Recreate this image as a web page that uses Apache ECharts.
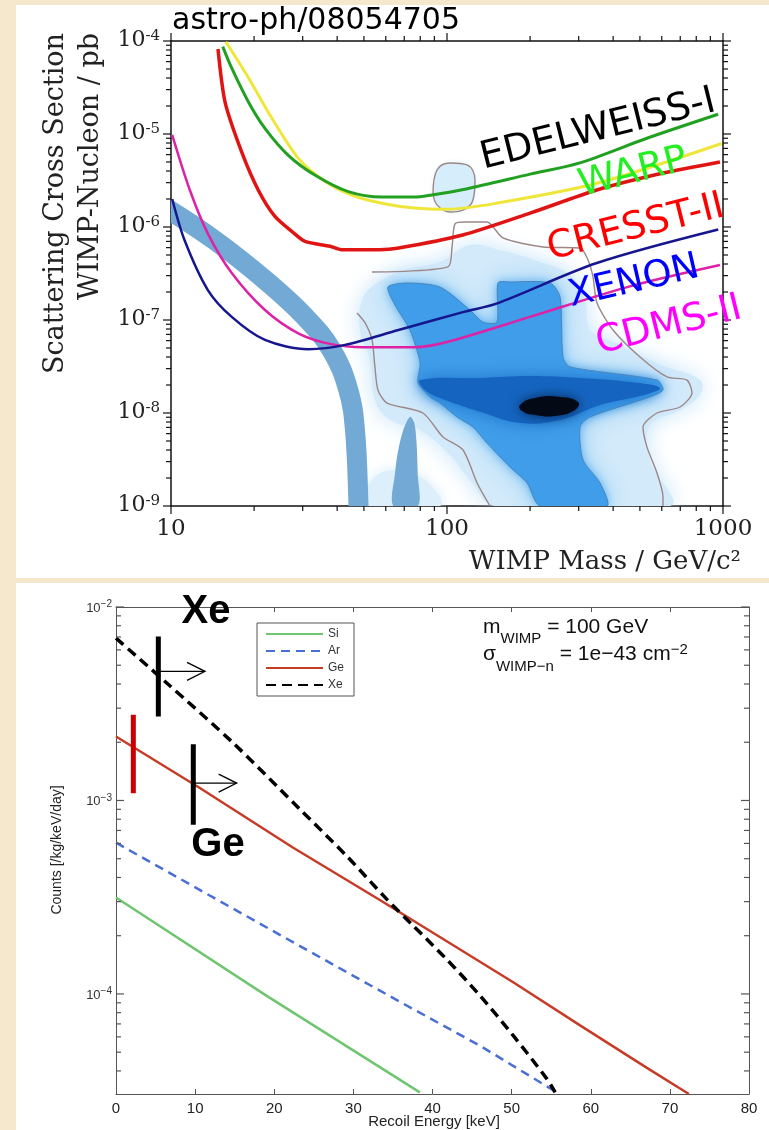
<!DOCTYPE html>
<html><head><meta charset="utf-8">
<script src="https://cdn.jsdelivr.net/npm/echarts@6/dist/echarts.min.js"></script>
<style>html,body{margin:0;padding:0;background:#f6e8cc;}#c{width:769px;height:1130px;}</style>
</head><body><div id="c"></div>
<script>
// ================= TOP CHART: WIMP mass [GeV/c^2] vs cross section [pb] =================
const edelweiss = [[15.4,8.7e-5],[16.6,5.1e-5],[19.1,2.2e-5],[21.9,1.15e-5],[26.6,5.9e-6],[33.3,3.6e-6],[43.9,2.4e-6],[58,2.1e-6],[76,2.1e-6],[87,2.2e-6],[116,2.55e-6],[200,3.7e-6],[303,4.9e-6],[530,9e-6],[960,1.63e-5]];
const warp = [[15.8,9.8e-5],[19.1,4e-5],[23.2,1.48e-5],[28.9,5.5e-6],[36.1,3.1e-6],[45.2,2.2e-6],[58,1.8e-6],[76,1.6e-6],[100,1.55e-6],[151,1.8e-6],[349,2.95e-6],[988,7.9e-6]];
const cresst = [[14.8,8.2e-5],[15.7,2.2e-5],[18,6.5e-6],[20.7,2.5e-6],[23.8,1.3e-6],[28,8.5e-7],[30.6,7e-7],[37.7,6.2e-7],[41.5,5.7e-7],[57,5.7e-7],[66,5.9e-7],[114,8.2e-7],[200,1.41e-6],[349,2.5e-6],[607,3.8e-6],[975,5.0e-6]];
const xenon = [[10.1,2e-6],[11.2,7.2e-7],[13.6,2.1e-7],[16.6,1.08e-7],[21.9,6.1e-8],[31.4,4.85e-8],[42.7,5.4e-8],[66.7,7.8e-8],[116,1.23e-7],[151,1.5e-7],[349,4.1e-7],[961,9.4e-7]];
const cdms = [[10.1,9.8e-6],[11.7,2.5e-6],[13.6,8.5e-7],[16.6,3.2e-7],[21.9,1.28e-7],[28.9,7.2e-8],[38,5.5e-8],[50,5.1e-8],[76,5.1e-8],[100,5.8e-8],[200,1.08e-7],[460,2.3e-7],[975,3.9e-7]];
// theory band and small spike region
const band = [[9.6,1.6e-6],[14.4,7.2e-7],[21.9,2.7e-7],[30.6,1.08e-7],[38.2,4.75e-8],[43.9,1.77e-8],[46.4,6.6e-9],[47.8,1e-9],[47.9,5e-10]];
const spike = [[63.9,1e-9],[64.8,2.24e-9],[66.6,4.0e-9],[69.5,6.6e-9],[73.5,9.1e-9],[76.1,7.8e-9],[77.6,4.7e-9],[78.3,2.24e-9],[78.5,1e-9]];
// posterior density regions
const haloRegion = [[49.2,1.64e-7],[54.8,2.4e-7],[70.4,3.45e-7],[94.3,4.2e-7],[121.1,6.4e-7],[155.6,5.66e-7],[217.3,4.2e-7],[279,3.05e-7],[316,1.64e-7],[329.7,7.8e-8],[423.5,5.4e-8],[591,3.3e-8],[825,2.26e-8],[825,1.56e-8],[698.6,1.08e-8],[543.9,7.4e-9],[543.9,3.13e-9],[643,1e-9],[149.3,1e-9],[121.1,1.9e-9],[102.5,3.53e-9],[79.9,6.56e-9],[62.2,8.4e-9],[54.8,1.38e-8],[52.6,3.72e-8],[48.4,7.8e-8]];
const haloLow = [[50.5,1e-9],[53.5,1.9e-9],[64.8,2.44e-9],[83.2,1.9e-9],[94.3,1e-9]];
const bubble = [[89.0,2.32e-6],[92.0,4.1e-6],[102.5,4.88e-6],[118.2,4.65e-6],[126.3,3.2e-6],[124.2,1.95e-6],[114.3,1.52e-6],[102.5,1.45e-6],[92.0,1.73e-6],[89.0,2.32e-6]];
const midRegion = [[61.1,2.26e-7],[71.6,2.5e-7],[94.3,2.26e-7],[121.1,1.28e-7],[135,9.5e-8],[151.8,9.5e-8],[153,2.5e-7],[169.1,2.56e-7],[236.2,2.5e-7],[256.7,1.77e-7],[263.2,4.0e-8],[279,3.13e-8],[576.6,2.26e-8],[606.2,1.77e-8],[543.9,1.49e-8],[329.7,9.06e-9],[303.4,7.06e-9],[311.1,3.13e-9],[358.4,1.77e-9],[379.9,1e-9],[217.3,1e-9],[195,1.77e-9],[169.1,2.62e-9],[139.6,4.75e-9],[124.2,7.06e-9],[108.7,9.06e-9],[94.3,1.28e-8],[86.8,1.49e-8],[78.5,2.1e-8],[79.9,3.45e-8],[73.4,7.8e-8],[64.8,1.45e-7]];
const darkRegion = [[79.9,2.26e-8],[131.7,2.38e-8],[199.8,2.5e-8],[303.4,2.38e-8],[460,2.15e-8],[591,1.86e-8],[500.4,1.52e-8],[358.4,1.22e-8],[256.7,8.4e-9],[183.9,7.8e-9],[131.7,1.03e-8],[94.3,1.45e-8],[83.2,1.77e-8]];
const coreRegion = [[183.9,1.22e-8],[208.4,1.45e-8],[256.7,1.49e-8],[298.4,1.31e-8],[290.9,1.08e-8],[246.3,9.3e-9],[208.4,9.5e-9],[187,1.05e-8]];
// outer (grey) credible contour, two open pieces
const contourA = [[53.5,3.28e-7],[100.8,3.72e-7],[104.3,6.1e-7],[106.9,1.08e-6],[116.2,1.13e-6],[139.6,1.13e-6],[159.6,7.62e-7],[222.8,6.1e-7],[303.4,5.94e-7],[324.3,4.42e-7],[338.1,2.9e-7],[349.5,1.52e-7],[399.4,7.8e-8],[500.4,4.0e-8],[626.8,2.44e-8],[740.7,2.26e-8],[772.2,1.64e-8],[698.6,1.16e-8],[576.6,1e-8],[513.1,7.06e-9],[530.5,4.3e-9],[576.6,2.26e-9],[606.2,1.25e-9],[606.2,1e-9]];
const contourB = [[47.2,1.19e-7],[50.5,9.3e-8],[53.5,6.1e-8],[54.8,3.13e-8],[56.2,1.77e-8],[60.6,1.28e-8],[81.8,1e-8],[96.7,5.52e-9],[114.3,4.0e-9],[128.5,1.77e-9],[143.2,1e-9]];
const massMajor = [10, 100, 1000];
const massMinor = [20,30,40,50,60,70,80,90,200,300,400,500,600,700,800,900];
const sigmaMajor = [1e-9,1e-8,1e-7,1e-6,1e-5,1e-4];
const sigmaMinor = [2e-9,3e-9,4e-9,5e-9,6e-9,7e-9,8e-9,9e-9,2e-8,3e-8,4e-8,5e-8,6e-8,7e-8,8e-8,9e-8,2e-7,3e-7,4e-7,5e-7,6e-7,7e-7,8e-7,9e-7,2e-6,3e-6,4e-6,5e-6,6e-6,7e-6,8e-6,9e-6,2e-5,3e-5,4e-5,5e-5,6e-5,7e-5,8e-5,9e-5];
const curveLabels = ['EDELWEISS-I','WARP','CRESST-II','XENON','CDMS-II'];

// ================= BOTTOM CHART: recoil energy [keV] vs counts =================
const si = [[0,3.15e-4],[19,9.8e-5],[38.4,3.1e-5]];
const ar = [[0,6.05e-4],[12,3.2e-4],[24,1.7e-4],[35.9,9.1e-5],[46,5.4e-5],[55.7,3.1e-5]];
const ge = [[0,2.14e-3],[10.6,1.16e-3],[22.4,5.7e-4],[33.4,3.05e-4],[50.2,1.15e-4],[58.6,6.9e-5],[67.1,4.15e-5],[72.4,3.04e-5]];
const xe = [[0,6.9e-3],[6.41,4.05e-3],[14.82,1.98e-3],[23.25,9.0e-4],[29.16,5.16e-4],[34.21,3.09e-4],[37.57,2.25e-4],[41.79,1.51e-4],[46.0,9.8e-5],[50.21,6.09e-5],[54.43,3.65e-5],[55.5,3.1e-5]];
const xeThreshold = [[5.35,7.03e-3],[5.35,2.72e-3]];
const geThreshold = [[9.77,1.95e-3],[9.77,7.5e-4]];
const redThreshold = [[2.19,2.77e-3],[2.19,1.09e-3]];
const arrows = [[5.35,4.65e-3,11.25,4.65e-3],[9.77,1.23e-3,15.25,1.23e-3]];
const countsMajor = [1e-4,1e-3,1e-2];
const countsMinor = [4e-5,5e-5,6e-5,7e-5,8e-5,9e-5,2e-4,3e-4,4e-4,5e-4,6e-4,7e-4,8e-4,9e-4,2e-3,3e-3,4e-3,5e-3,6e-3,7e-3,8e-3,9e-3];
const legendNames = ['Si','Ar','Ge','Xe'];

// ---------------- helpers ----------------
function isPow10(v){ const e = Math.log10(v); return Math.abs(e - Math.round(e)) < 1e-6; }
function polySeries(pts, style, z, xi, yi, smooth) {
  return { type:'custom', xAxisIndex:xi, yAxisIndex:yi, z:z, clip:true, silent:true, data:pts,
    renderItem:(params, api) => params.dataIndex === 0 ? {type:'polygon', shape:{points:pts.map(p => api.coord(p)), smooth:smooth}, style:style} : null };
}
function thickPathSeries(pts, style, z, xi, yi, smooth) {
  return { type:'custom', xAxisIndex:xi, yAxisIndex:yi, z:z, clip:true, silent:true, data:pts,
    renderItem:(params, api) => params.dataIndex === 0 ? {type:'polyline', shape:{points:pts.map(p => api.coord(p)), smooth:smooth}, style:style} : null };
}
function lineSeries(name, data, color, width, z, xi, yi, extra) {
  return Object.assign({ name:name, type:'line', data:data, xAxisIndex:xi, yAxisIndex:yi, z:z, symbol:'none', showSymbol:false, silent:true,
    lineStyle:{color:color, width:width}, itemStyle:{color:color}, clip:true }, extra || {});
}
function tickSeries(data, outward, color, xi, yi) {
  return { type:'custom', xAxisIndex:xi, yAxisIndex:yi, z:9, clip:false, silent:true, data:data,
    renderItem:(params, api) => {
      const cs = params.coordSys;
      const p = api.coord([api.value(0), api.value(1)]);
      const kind = api.value(2), len = api.value(3), s = outward ? 1 : -1;
      let L;
      if (kind === 0) { const yb = cs.y + cs.height, yt = cs.y; L = [[p[0],yb,p[0],yb+s*len],[p[0],yt,p[0],yt-s*len]]; }
      else { const xl = cs.x, xr = cs.x + cs.width; L = [[xl,p[1],xl-s*len,p[1]],[xr,p[1],xr+s*len,p[1]]]; }
      return {type:'group', children:L.map(l => ({type:'line', shape:{x1:l[0],y1:l[1],x2:l[2],y2:l[3]}, style:{stroke:color, lineWidth:1.2}}))};
    } };
}
const topTicks = [];
massMajor.forEach(v => topTicks.push([v,1e-9,0,8]));
massMinor.forEach(v => topTicks.push([v,1e-9,0,5]));
sigmaMajor.forEach(v => topTicks.push([10,v,1,8]));
sigmaMinor.forEach(v => topTicks.push([10,v,1,5]));
const botTicks = [];
countsMajor.forEach(v => botTicks.push([0,v,1,8]));
countsMinor.forEach(v => botTicks.push([0,v,1,5]));

const serif = 'DejaVu Serif';
const sans = 'Liberation Sans';

const chart = echarts.init(document.getElementById('c'), null, {renderer:'canvas', width:769, height:1130});
const option = {
  animation:false,
  backgroundColor:'#f6e8cc',
  grid:[{left:171, top:41, width:552, height:465},{left:116, top:607, width:633, height:487}],
  legend:{ data:legendNames, orient:'vertical', left:257, top:623, itemWidth:57, itemHeight:12, itemGap:5,
    backgroundColor:'#fff', borderColor:'#555', borderWidth:1, padding:[5,10,5,8],
    itemStyle:{opacity:0}, textStyle:{fontFamily:sans, fontSize:12, color:'#333'}, selectedMode:false },
  xAxis:[
    {gridIndex:0, type:'log', logBase:10, min:10, max:1000, position:'bottom',
      axisLine:{onZero:false, lineStyle:{color:'#111', width:1.5}}, axisTick:{show:false}, splitLine:{show:false},
      axisLabel:{formatter:v => isPow10(v) ? String(Math.round(v)) : '', fontFamily:serif, fontSize:23, color:'#222', margin:12}},
    {gridIndex:0, type:'log', logBase:10, min:10, max:1000, position:'top',
      axisLine:{onZero:false, lineStyle:{color:'#111', width:1.5}}, axisTick:{show:false}, splitLine:{show:false}, axisLabel:{show:false}},
    {gridIndex:1, type:'value', min:0, max:80, interval:10, position:'bottom',
      axisLine:{onZero:false, lineStyle:{color:'#555'}}, axisTick:{inside:true, length:5, lineStyle:{color:'#555'}}, splitLine:{show:false},
      axisLabel:{fontFamily:sans, fontSize:15, color:'#222', margin:7}},
    {gridIndex:1, type:'value', min:0, max:80, interval:10, position:'top',
      axisLine:{onZero:false, lineStyle:{color:'#555'}}, axisTick:{inside:true, length:5, lineStyle:{color:'#555'}}, splitLine:{show:false}, axisLabel:{show:false}}
  ],
  yAxis:[
    {gridIndex:0, type:'log', logBase:10, min:1e-9, max:1e-4, position:'left',
      axisLine:{onZero:false, lineStyle:{color:'#111', width:1.5}}, axisTick:{show:false}, splitLine:{show:false},
      axisLabel:{margin:11, formatter:v => isPow10(v) ? '{b|10}{s|' + Math.round(Math.log10(v)) + '}' : '',
        rich:{b:{fontFamily:serif, fontSize:22, color:'#222', lineHeight:24, verticalAlign:'top'},
              s:{fontFamily:serif, fontSize:15, color:'#222', lineHeight:16, verticalAlign:'top'}}}},
    {gridIndex:0, type:'log', logBase:10, min:1e-9, max:1e-4, position:'right',
      axisLine:{onZero:false, lineStyle:{color:'#111', width:1.5}}, axisTick:{show:false}, splitLine:{show:false}, axisLabel:{show:false}},
    {gridIndex:1, type:'log', logBase:10, min:3.04e-5, max:1e-2, position:'left',
      axisLine:{onZero:false, lineStyle:{color:'#555'}}, axisTick:{show:false}, splitLine:{show:false},
      axisLabel:{margin:4, formatter:v => isPow10(v) ? '{b|10}{s|\u2212' + (-Math.round(Math.log10(v))) + '}' : '',
        rich:{b:{fontFamily:sans, fontSize:13, color:'#333', lineHeight:15, verticalAlign:'bottom'},
              s:{fontFamily:sans, fontSize:10, color:'#333', lineHeight:10, padding:[0,0,10,0], verticalAlign:'top'}}}},
    {gridIndex:1, type:'log', logBase:10, min:3.04e-5, max:1e-2, position:'right',
      axisLine:{onZero:false, lineStyle:{color:'#555'}}, axisTick:{show:false}, splitLine:{show:false}, axisLabel:{show:false}}
  ],
  series:[
    // density layers
    polySeries(haloRegion, {fill:'#d3eafa', shadowBlur:22, shadowColor:'#c8e5f9'}, 1, 0, 0, 0.4),
    polySeries(haloLow, {fill:'#dcefFb', shadowBlur:14, shadowColor:'#d5ecfa'}, 1, 0, 0, 0.4),
    polySeries(bubble, {fill:'#d6edfb', shadowBlur:6, shadowColor:'#e2f2fc'}, 1, 0, 0, 0.3),
    polySeries(midRegion, {fill:'#7cc0f2', shadowBlur:26, shadowColor:'#8ccaf4'}, 2, 0, 0, 0.25),
    polySeries(midRegion, {fill:'#3f9de9', shadowBlur:8, shadowColor:'#5aaeee'}, 2, 0, 0, 0.25),
    polySeries(darkRegion, {fill:'#1565c0', shadowBlur:16, shadowColor:'#1f74cc'}, 3, 0, 0, 0.4),
    polySeries(coreRegion, {fill:'#030a16', shadowBlur:12, shadowColor:'#052a5a'}, 4, 0, 0, 0.5),
    polySeries(midRegion, {fill:'none', stroke:'#4b86bd', lineWidth:1}, 5, 0, 0, 0.25),
    polySeries(spike, {fill:'#72a9d5'}, 5, 0, 0, 0.3),
    thickPathSeries(band, {fill:'none', stroke:'#72a9d5', lineWidth:20, lineCap:'butt', lineJoin:'round'}, 5, 0, 0, 0.4),
    lineSeries('contourA', contourA, '#9c8787', 1.4, 6, 0, 0, {smooth:0.25}),
    lineSeries('contourB', contourB, '#9c8787', 1.4, 6, 0, 0, {smooth:0.25}),
    lineSeries('bubbleLine', bubble, '#9c8787', 1.4, 6, 0, 0, {smooth:0.4}),
    // exclusion limits
    lineSeries(curveLabels[1], warp, '#efe63a', 3, 7, 0, 0, {smooth:0.3}),
    lineSeries(curveLabels[0], edelweiss, '#22a022', 3, 7, 0, 0, {smooth:0.3}),
    lineSeries(curveLabels[2], cresst, '#e11414', 3.5, 7, 0, 0, {smooth:0.25}),
    lineSeries(curveLabels[4], cdms, '#dd22a6', 2.5, 7, 0, 0, {smooth:0.3}),
    lineSeries(curveLabels[3], xenon, '#16168f', 2.5, 7, 0, 0, {smooth:0.3}),
    tickSeries(topTicks, true, '#111', 0, 0),
    // bottom chart
    lineSeries('Si', si, '#70c670', 2.5, 4, 2, 2),
    lineSeries('Ar', ar, '#4a6fd4', 2.5, 4, 2, 2, {lineStyle:{color:'#4a6fd4', width:2.5, type:[9,6]}}),
    lineSeries('Ge', ge, '#c63c27', 2.5, 4, 2, 2),
    lineSeries('Xe', xe, '#000', 3.5, 5, 2, 2, {smooth:0.3, lineStyle:{color:'#000', width:3.5, type:[10,6]}}),
    lineSeries('XeThr', xeThreshold, '#000', 5, 6, 2, 2, {lineStyle:{color:'#000', width:5, cap:'butt'}}),
    lineSeries('GeThr', geThreshold, '#000', 5, 6, 2, 2, {lineStyle:{color:'#000', width:5, cap:'butt'}}),
    lineSeries('RedThr', redThreshold, '#cc0000', 5, 6, 2, 2, {lineStyle:{color:'#cc0000', width:5, cap:'butt'}}),
    { type:'custom', xAxisIndex:2, yAxisIndex:2, z:6, clip:false, silent:true, data:arrows,
      renderItem:(params, api) => {
        const a = api.coord([api.value(0), api.value(1)]), b = api.coord([api.value(2), api.value(3)]);
        return {type:'group', children:[
          {type:'line', shape:{x1:a[0], y1:a[1], x2:b[0], y2:b[1]}, style:{stroke:'#000', lineWidth:1.3}},
          {type:'polyline', shape:{points:[[b[0]-18,b[1]-9],[b[0],b[1]],[b[0]-18,b[1]+9]]}, style:{stroke:'#000', lineWidth:1.3, fill:'none'}}
        ]};
      } },
    tickSeries(botTicks, false, '#555', 2, 2)
  ],
  graphic:[
    {type:'rect', z:-10, shape:{x:16, y:5, width:753, height:573}, style:{fill:'#fff'}},
    {type:'rect', z:-10, shape:{x:16, y:583, width:753, height:547}, style:{fill:'#fff'}},
    {type:'text', z:20, x:172, y:6, style:{text:'astro-ph/08054705', fontFamily:'DejaVu Sans', fontSize:30, fill:'#000', align:'left', verticalAlign:'top'}},
    {type:'text', z:20, x:56, y:33, rotation:Math.PI/2, style:{text:'Scattering Cross Section', fontFamily:serif, fontSize:27, fill:'#222', align:'right', verticalAlign:'middle'}},
    {type:'text', z:20, x:91, y:33, rotation:Math.PI/2, style:{text:'WIMP-Nucleon / pb', fontFamily:serif, fontSize:27, fill:'#222', align:'right', verticalAlign:'middle'}},
    {type:'text', z:20, x:741, y:562, style:{text:'WIMP Mass / GeV/c\u00B2', fontFamily:serif, fontSize:26, fill:'#222', align:'right', verticalAlign:'middle'}},
    {type:'text', z:20, x:598, y:130, rotation:14*Math.PI/180, style:{text:curveLabels[0], fontFamily:'DejaVu Sans', fontSize:38, fill:'#000', align:'center', verticalAlign:'middle'}},
    {type:'text', z:20, x:633, y:173, rotation:14*Math.PI/180, style:{text:curveLabels[1], fontFamily:'DejaVu Sans', fontSize:38, fill:'#22ee22', align:'center', verticalAlign:'middle'}},
    {type:'text', z:20, x:636, y:228, rotation:14*Math.PI/180, style:{text:curveLabels[2], fontFamily:'DejaVu Sans', fontSize:38, fill:'#ff0000', align:'center', verticalAlign:'middle'}},
    {type:'text', z:20, x:634, y:282, rotation:13*Math.PI/180, style:{text:curveLabels[3], fontFamily:'DejaVu Sans', fontSize:37, fill:'#0000ff', align:'center', verticalAlign:'middle'}},
    {type:'text', z:20, x:669, y:326, rotation:14*Math.PI/180, style:{text:curveLabels[4], fontFamily:'DejaVu Sans', fontSize:38, fill:'#ff00ff', align:'center', verticalAlign:'middle'}},
    // bottom chart annotations
    {type:'text', z:20, x:206, y:612, style:{text:'Xe', fontFamily:sans, fontWeight:'bold', fontSize:40, fill:'#000', align:'center', verticalAlign:'middle'}},
    {type:'text', z:20, x:218, y:845, style:{text:'Ge', fontFamily:sans, fontWeight:'bold', fontSize:40, fill:'#000', align:'center', verticalAlign:'middle'}},
    {type:'text', z:20, x:483, y:617, style:{text:'{a|m}{b|WIMP}{a| = 100 GeV}', align:'left', verticalAlign:'top',
      rich:{a:{fontFamily:sans, fontSize:21, lineHeight:22, verticalAlign:'top', fill:'#111'}, b:{fontFamily:sans, fontSize:15, lineHeight:16, padding:[14,0,0,0], verticalAlign:'top', fill:'#111'}}}},
    {type:'text', z:20, x:483, y:637, style:{text:'{s|\u03C3}{u|WIMP\u2212n}{s| = 1e\u221243 cm}{p|\u22122}', align:'left', verticalAlign:'top',
      rich:{s:{fontFamily:sans, fontSize:21, lineHeight:22, padding:[7,0,0,0], verticalAlign:'top', fill:'#111'},
            u:{fontFamily:sans, fontSize:15, lineHeight:16, padding:[22,0,0,0], verticalAlign:'top', fill:'#111'},
            p:{fontFamily:sans, fontSize:15, lineHeight:16, padding:[5,0,0,0], verticalAlign:'top', fill:'#111'}}}},
    {type:'text', z:20, x:57, y:850, rotation:Math.PI/2, style:{text:'Counts [/kg/keV/day]', fontFamily:sans, fontSize:14, fill:'#222', align:'center', verticalAlign:'middle'}},
    {type:'text', z:20, x:434, y:1122, style:{text:'Recoil Energy [keV]', fontFamily:sans, fontSize:15, fill:'#222', align:'center', verticalAlign:'middle'}}
  ]
};
chart.setOption(option);
</script>
</body></html>
